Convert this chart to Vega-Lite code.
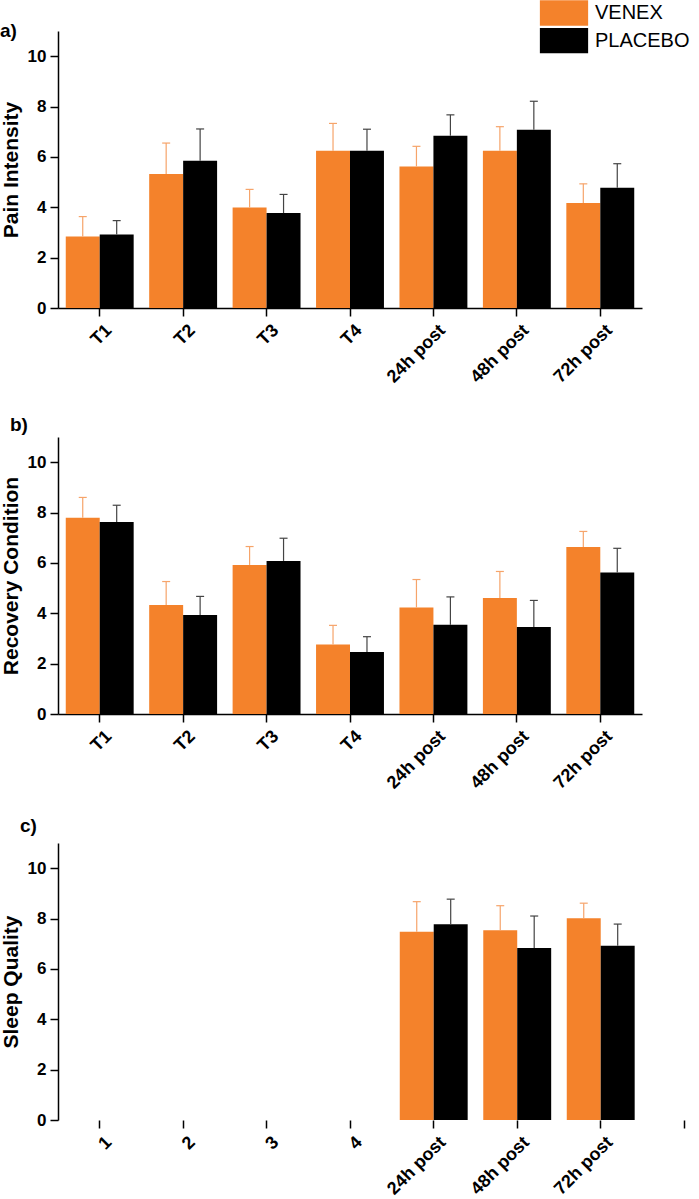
{
  "$schema": "https://vega.github.io/schema/vega-lite/v6.json",
  "padding": 0,
  "background": "white",
  "datasets": {
    "pain": [
      {"time": "T1", "group": "VENEX", "mean": 2.84, "upper": 3.63},
      {"time": "T1", "group": "PLACEBO", "mean": 2.92, "upper": 3.47},
      {"time": "T2", "group": "VENEX", "mean": 5.32, "upper": 6.55},
      {"time": "T2", "group": "PLACEBO", "mean": 5.85, "upper": 7.11},
      {"time": "T3", "group": "VENEX", "mean": 3.99, "upper": 4.71},
      {"time": "T3", "group": "PLACEBO", "mean": 3.77, "upper": 4.51},
      {"time": "T4", "group": "VENEX", "mean": 6.24, "upper": 7.33},
      {"time": "T4", "group": "PLACEBO", "mean": 6.24, "upper": 7.10},
      {"time": "24h post", "group": "VENEX", "mean": 5.62, "upper": 6.42},
      {"time": "24h post", "group": "PLACEBO", "mean": 6.84, "upper": 7.67},
      {"time": "48h post", "group": "VENEX", "mean": 6.24, "upper": 7.20},
      {"time": "48h post", "group": "PLACEBO", "mean": 7.08, "upper": 8.21},
      {"time": "72h post", "group": "VENEX", "mean": 4.17, "upper": 4.93},
      {"time": "72h post", "group": "PLACEBO", "mean": 4.78, "upper": 5.73}
    ],
    "recovery": [
      {"time": "T1", "group": "VENEX", "mean": 7.79, "upper": 8.60},
      {"time": "T1", "group": "PLACEBO", "mean": 7.62, "upper": 8.29},
      {"time": "T2", "group": "VENEX", "mean": 4.33, "upper": 5.26},
      {"time": "T2", "group": "PLACEBO", "mean": 3.93, "upper": 4.67},
      {"time": "T3", "group": "VENEX", "mean": 5.92, "upper": 6.65},
      {"time": "T3", "group": "PLACEBO", "mean": 6.08, "upper": 6.98},
      {"time": "T4", "group": "VENEX", "mean": 2.76, "upper": 3.52},
      {"time": "T4", "group": "PLACEBO", "mean": 2.46, "upper": 3.07},
      {"time": "24h post", "group": "VENEX", "mean": 4.23, "upper": 5.34},
      {"time": "24h post", "group": "PLACEBO", "mean": 3.54, "upper": 4.65},
      {"time": "48h post", "group": "VENEX", "mean": 4.61, "upper": 5.66},
      {"time": "48h post", "group": "PLACEBO", "mean": 3.45, "upper": 4.51},
      {"time": "72h post", "group": "VENEX", "mean": 6.63, "upper": 7.25},
      {"time": "72h post", "group": "PLACEBO", "mean": 5.62, "upper": 6.58}
    ],
    "sleep": [
      {"time": "24h post", "group": "VENEX", "mean": 7.48, "upper": 8.67},
      {"time": "24h post", "group": "PLACEBO", "mean": 7.77, "upper": 8.77},
      {"time": "48h post", "group": "VENEX", "mean": 7.54, "upper": 8.51},
      {"time": "48h post", "group": "PLACEBO", "mean": 6.83, "upper": 8.10},
      {"time": "72h post", "group": "VENEX", "mean": 8.01, "upper": 8.61},
      {"time": "72h post", "group": "PLACEBO", "mean": 6.92, "upper": 7.78}
    ]
  },
  "bounds": "flush",
  "spacing": 129,
  "resolve": {"scale": {"color": "independent"}, "legend": {"color": "independent"}},
  "vconcat": [
    {
      "width": 584,
      "height": 277,
      "title": {"text": "a)", "anchor": "start", "frame": "group", "dx": -58, "dy": 56, "offset": 0, "baseline": "alphabetic", "fontSize": 19, "fontWeight": "bold", "color": "#000"},
      "data": {"name": "pain"},
      "encoding": {
        "x": {"field": "time", "type": "nominal", "sort": null,
              "scale": {"domain": ["T1", "T2", "T3", "T4", "24h post", "48h post", "72h post"], "paddingInner": 0.186, "paddingOuter": 0.093},
              "axis": {"title": null, "labelAngle": -45, "tickSize": 8, "labelPadding": 5, "labelOffset": 3}},
        "xOffset": {"field": "group", "type": "nominal", "scale": {"domain": ["VENEX", "PLACEBO"], "paddingInner": 0, "paddingOuter": 0}}
      },
      "layer": [
        {"mark": {"type": "bar"},
         "encoding": {
           "y": {"field": "mean", "type": "quantitative", "scale": {"domain": [0, 11], "nice": false},
                 "axis": {"title": "Pain Intensity", "values": [0,1,2,3,4,5,6,7,8,9,10], "labelExpr": "datum.value % 2 === 0 ? datum.label : ''",
                          "tickSize": {"condition": {"test": "datum.value % 2 === 0", "value": 8}, "value": 4}}},
           "color": {"field": "group", "type": "nominal", "scale": {"domain": ["VENEX", "PLACEBO"], "range": ["#F4822B", "#000000"]},
                     "legend": {"title": null, "orient": "none", "legendX": 493, "legendY": -31, "symbolType": "M-1.9,-1H1.9V1H-1.9Z", "symbolSize": 645, "symbolStrokeWidth": 0, "symbolOpacity": 1, "labelFontSize": 20, "labelFontWeight": "normal", "labelColor": "#000", "labelOffset": 18, "rowPadding": 1.6}}
         }},
        {"mark": {"type": "rule", "strokeWidth": 1.2},
         "encoding": {
           "y": {"field": "mean", "type": "quantitative", "axis": {"title": "Pain Intensity"}},
           "y2": {"field": "upper"},
           "stroke": {"field": "group", "type": "nominal", "scale": {"domain": ["VENEX", "PLACEBO"], "range": ["#F6A46A", "#444444"]}, "legend": null}
         }},
        {"mark": {"type": "tick", "thickness": 1.2, "size": 8, "opacity": 1},
         "encoding": {
           "y": {"field": "upper", "type": "quantitative", "axis": {"title": "Pain Intensity"}},
           "fill": {"field": "group", "type": "nominal", "scale": {"domain": ["VENEX", "PLACEBO"], "range": ["#F6A46A", "#444444"]}, "legend": null}
         }}
      ]
    },
    {
      "width": 584,
      "height": 277,
      "title": {"text": "b)", "anchor": "start", "frame": "group", "dx": -48, "dy": 13, "offset": 0, "baseline": "alphabetic", "fontSize": 19, "fontWeight": "bold", "color": "#000"},
      "data": {"name": "recovery"},
      "encoding": {
        "x": {"field": "time", "type": "nominal", "sort": null,
              "scale": {"domain": ["T1", "T2", "T3", "T4", "24h post", "48h post", "72h post"], "paddingInner": 0.186, "paddingOuter": 0.093},
              "axis": {"title": null, "labelAngle": -45, "tickSize": 8, "labelPadding": 5, "labelOffset": 3}},
        "xOffset": {"field": "group", "type": "nominal", "scale": {"domain": ["VENEX", "PLACEBO"], "paddingInner": 0, "paddingOuter": 0}}
      },
      "layer": [
        {"mark": {"type": "bar"},
         "encoding": {
           "y": {"field": "mean", "type": "quantitative", "scale": {"domain": [0, 11], "nice": false},
                 "axis": {"title": "Recovery Condition", "values": [0,1,2,3,4,5,6,7,8,9,10], "labelExpr": "datum.value % 2 === 0 ? datum.label : ''",
                          "tickSize": {"condition": {"test": "datum.value % 2 === 0", "value": 8}, "value": 4}}},
           "color": {"field": "group", "type": "nominal", "scale": {"domain": ["VENEX", "PLACEBO"], "range": ["#F4822B", "#000000"]}, "legend": null}
         }},
        {"mark": {"type": "rule", "strokeWidth": 1.2},
         "encoding": {
           "y": {"field": "mean", "type": "quantitative", "axis": {"title": "Recovery Condition"}},
           "y2": {"field": "upper"},
           "stroke": {"field": "group", "type": "nominal", "scale": {"domain": ["VENEX", "PLACEBO"], "range": ["#F6A46A", "#444444"]}, "legend": null}
         }},
        {"mark": {"type": "tick", "thickness": 1.2, "size": 8, "opacity": 1},
         "encoding": {
           "y": {"field": "upper", "type": "quantitative", "axis": {"title": "Recovery Condition"}},
           "fill": {"field": "group", "type": "nominal", "scale": {"domain": ["VENEX", "PLACEBO"], "range": ["#F6A46A", "#444444"]}, "legend": null}
         }}
      ]
    },
    {
      "width": 626,
      "height": 277,
      "title": {"text": "c)", "anchor": "start", "frame": "group", "dx": -38, "dy": 8, "offset": 0, "baseline": "alphabetic", "fontSize": 19, "fontWeight": "bold", "color": "#000"},
      "data": {"name": "sleep"},
      "encoding": {
        "x": {"field": "time", "type": "nominal", "sort": null,
              "scale": {"domain": ["1", "2", "3", "4", "24h post", "48h post", "72h post", " "], "range": [0, 668], "paddingInner": 0.186, "paddingOuter": 0.093},
              "axis": {"title": null, "labelAngle": -45, "tickSize": 8, "labelPadding": 5, "labelOffset": 3, "domain": false}},
        "xOffset": {"field": "group", "type": "nominal", "scale": {"domain": ["VENEX", "PLACEBO"], "paddingInner": 0, "paddingOuter": 0}}
      },
      "layer": [
        {"mark": {"type": "bar"},
         "encoding": {
           "y": {"field": "mean", "type": "quantitative", "scale": {"domain": [0, 11], "nice": false},
                 "axis": {"title": "Sleep Quality", "values": [0,1,2,3,4,5,6,7,8,9,10], "labelExpr": "datum.value % 2 === 0 ? datum.label : ''",
                          "tickSize": {"condition": {"test": "datum.value % 2 === 0", "value": 8}, "value": 4}}},
           "color": {"field": "group", "type": "nominal", "scale": {"domain": ["VENEX", "PLACEBO"], "range": ["#F4822B", "#000000"]}, "legend": null}
         }},
        {"mark": {"type": "rule", "strokeWidth": 1.2},
         "encoding": {
           "y": {"field": "mean", "type": "quantitative", "axis": {"title": "Sleep Quality"}},
           "y2": {"field": "upper"},
           "stroke": {"field": "group", "type": "nominal", "scale": {"domain": ["VENEX", "PLACEBO"], "range": ["#F6A46A", "#444444"]}, "legend": null}
         }},
        {"mark": {"type": "tick", "thickness": 1.2, "size": 8, "opacity": 1},
         "encoding": {
           "y": {"field": "upper", "type": "quantitative", "axis": {"title": "Sleep Quality"}},
           "fill": {"field": "group", "type": "nominal", "scale": {"domain": ["VENEX", "PLACEBO"], "range": ["#F6A46A", "#444444"]}, "legend": null}
         }},
        {"data": {"values": [{"baseline": 0}]},
         "mark": {"type": "rule", "color": "#000", "strokeWidth": 1.5},
         "encoding": {"y": {"field": "baseline", "type": "quantitative", "axis": {"title": "Sleep Quality"}}}}
      ]
    }
  ],
  "config": {
    "font": "Liberation Sans",
    "view": {"stroke": null},
    "axis": {
      "grid": false,
      "domainColor": "#000", "tickColor": "#000", "labelColor": "#000", "titleColor": "#000",
      "domainWidth": 1.5, "tickWidth": 1.5,
      "labelFont": "Liberation Sans", "labelFontSize": 17, "labelFontWeight": "bold",
      "titleFont": "Liberation Sans", "titleFontSize": 21, "titleFontWeight": "bold"
    },
    "axisX": {"labelFontSize": 18},
    "axisY": {"labelPadding": 4, "titlePadding": 6},
    "legend": {"labelFont": "Liberation Sans"}
  }
}
